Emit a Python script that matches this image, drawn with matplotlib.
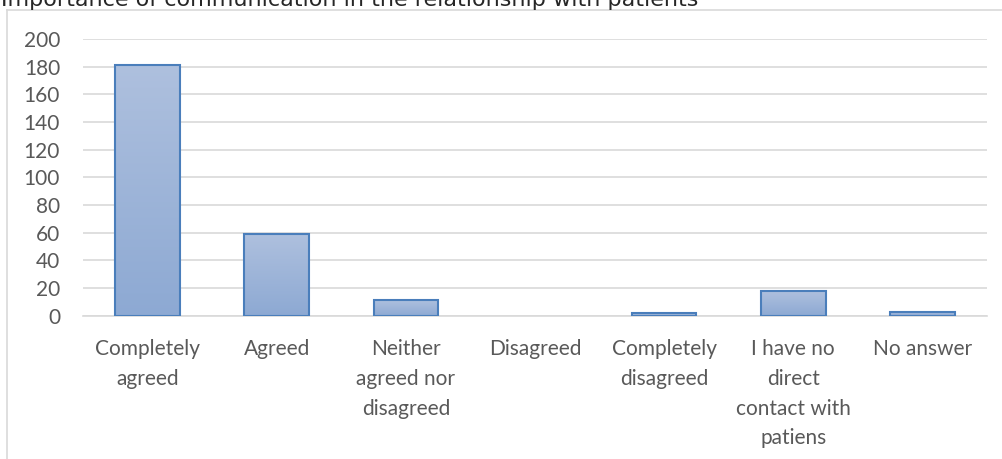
import matplotlib
matplotlib.use("Agg")
import matplotlib.pyplot as plt
import numpy as np
from matplotlib.colors import LinearSegmentedColormap

categories = ["Completely\nagreed", "Agreed", "Neither\nagreed nor\ndisagreed", "Disagreed",
              "Completely\ndisagreed", "I have no\ndirect\ncontact with\npatiens", "No answer"]
values = [181, 59, 11, 0, 2, 18, 3]
yticks = [0, 20, 40, 60, 80, 100, 120, 140, 160, 180, 200]
title = "Importance of communication in the relationship with patients"

W, H = 1003, 459
fig = plt.figure(figsize=(W / 100, H / 100), dpi=100)
ax = fig.add_axes([83 / W, (H - 315.7) / H, (987 - 83) / W, (315.7 - 39) / H])

x = np.arange(len(categories))
bars = ax.bar(x, values, width=0.5, color="none", edgecolor="#4A7EBB", linewidth=1.5, zorder=3)

cmap = LinearSegmentedColormap.from_list("g", ["#8DA9D3", "#AEC0DE"])
grad = np.linspace(0, 1, 256).reshape(-1, 1)
for b in bars:
    h = b.get_height()
    if h <= 0:
        b.set_linewidth(0)
        continue
    bx, bw = b.get_x(), b.get_width()
    im = ax.imshow(grad, cmap=cmap, aspect="auto", origin="lower",
                   extent=[bx, bx + bw, 0, h], zorder=2)
    im.set_clip_path(b)

ax.set_xlim(-0.5, len(categories) - 0.5)
ax.set_ylim(0, 200)
ax.set_yticks(yticks)
ax.set_xticks(x)
ax.set_xticklabels(categories, linespacing=1.6)
ax.grid(axis="y", color="#D9D9D9", linewidth=1.2, zorder=0)
ax.set_axisbelow(True)
for s in ["top", "right", "left"]:
    ax.spines[s].set_visible(False)
ax.spines["bottom"].set_color("#D9D9D9")
ax.spines["bottom"].set_linewidth(1.2)
ax.tick_params(axis="both", length=0, colors="#595959", labelsize=15)
ax.tick_params(axis="y", pad=16.5)
ax.tick_params(axis="x", pad=17)
for lab in ax.get_xticklabels() + ax.get_yticklabels():
    lab.set_fontfamily("Lato")

# chart border (clipped by figure edges)
fig.add_artist(plt.Line2D([7.5 / W, 7.5 / W], [0, (H - 10) / H], color="#D9D9D9", linewidth=1.2,
                          transform=fig.transFigure))
fig.add_artist(plt.Line2D([7.5 / W, 1.0], [(H - 10) / H, (H - 10) / H], color="#D9D9D9", linewidth=1.2,
                          transform=fig.transFigure))

fig.text(1 / W, (H - 5.5) / H, title, fontsize=16, color="#262626", va="baseline", ha="left",
         fontfamily="DejaVu Sans")

fig.savefig("out.png", dpi=100)
